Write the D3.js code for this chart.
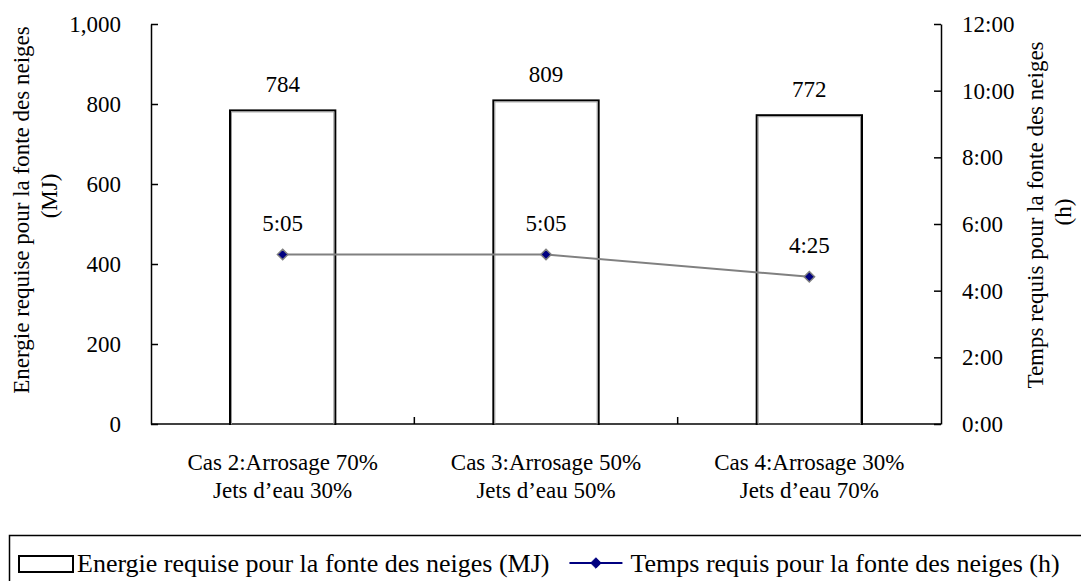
<!DOCTYPE html>
<html>
<head>
<meta charset="utf-8">
<script src="https://cdn.jsdelivr.net/npm/d3@7"></script>
<style>
  html, body { margin: 0; padding: 0; background: #fff; }
</style>
</head>
<body>
<svg id="chart" width="1081" height="581"></svg>
<script>
// Snow-melting scenarios: share of sprinkling vs. water jets
const categories = [
  ["Cas 2:Arrosage 70%", "Jets d\u2019eau 30%"],
  ["Cas 3:Arrosage 50%", "Jets d\u2019eau 50%"],
  ["Cas 4:Arrosage 30%", "Jets d\u2019eau 70%"]
];
// Energy required for melting (MJ)
const energyMJ = [784, 809, 772];
// Time required for melting (h:mm)
const meltTime = ["5:05", "5:05", "4:25"];

const energyTicks = [0, 200, 400, 600, 800, 1000];
const timeTicks = [0, 2, 4, 6, 8, 10, 12];

const energyLabel = ["Energie requise pour la fonte des neiges", "(MJ)"];
const timeLabel = ["Temps requis pour la fonte des neiges", "(h)"];
const legendEnergy = "Energie requise pour la fonte des neiges (MJ)";
const legendTime = "Temps requis pour la fonte des neiges (h)";

const toHours = s => { const [h, m] = s.split(":").map(Number); return h + m / 60; };
const fmtHM = h => Math.floor(h) + ":" + String(Math.round((h - Math.floor(h)) * 60)).padStart(2, "0");

const FONT = '"Liberation Serif", "Times New Roman", Times, serif';
const svg = d3.select("#chart").style("font-family", FONT);
const plot = { left: 151, right: 941, top: 24, bottom: 424 };
const FS = 23;

const keys = categories.map(c => c.join(" "));
const x = d3.scaleBand().domain(keys).range([plot.left, plot.right])
  .paddingInner(0.6).paddingOuter(0.3);
const yE = d3.scaleLinear().domain([0, 1000]).range([plot.bottom, plot.top]);
const yT = d3.scaleLinear().domain([0, 12]).range([plot.bottom, plot.top]);

// Left axis (energy)
const gL = svg.append("g").attr("transform", `translate(${plot.left},0)`)
  .call(d3.axisLeft(yE).tickValues(energyTicks).tickFormat(d3.format(",")).tickSize(-7).tickSizeOuter(0).tickPadding(30));
// Right axis (time)
const gR = svg.append("g").attr("transform", `translate(${plot.right},0)`)
  .call(d3.axisRight(yT).tickValues(timeTicks).tickFormat(d => d + ":00").tickSize(-7).tickSizeOuter(0).tickPadding(21));
[gL, gR].forEach(g => {
  g.attr("font-family", null).attr("font-size", null);
  g.select(".domain").attr("stroke", "#000").attr("stroke-width", 1.5);
  g.selectAll(".tick line").attr("stroke", "#000").attr("stroke-width", 1.5);
  g.selectAll(".tick text").attr("font-size", FS);
});

// Bottom axis with separators between categories
const gB = svg.append("g").attr("transform", `translate(0,${plot.bottom})`);
gB.append("line").attr("x1", plot.left).attr("x2", plot.right)
  .attr("stroke", "#000").attr("stroke-width", 1.5);
const step = x.step();
const seps = keys.slice(1).map(k => x(k) - step * x.paddingInner() / 2);
gB.selectAll("line.sep").data(seps).join("line").attr("class", "sep")
  .attr("x1", d => d).attr("x2", d => d).attr("y1", 0).attr("y2", -7)
  .attr("stroke", "#000").attr("stroke-width", 1.5);

// Category labels (two lines)
const catG = svg.append("g");
categories.forEach((lines, i) => {
  const cx = x(keys[i]) + x.bandwidth() / 2;
  lines.forEach((t, j) => {
    catG.append("text").attr("x", cx).attr("y", 470 + j * 28)
      .attr("text-anchor", "middle").attr("font-size", FS).text(t);
  });
});

// Bars
const bars = svg.append("g");
bars.selectAll("rect.bar").data(energyMJ).join("rect").attr("class", "bar")
  .attr("x", (d, i) => x(keys[i]))
  .attr("y", d => yE(d))
  .attr("width", x.bandwidth())
  .attr("height", d => yE(0) - yE(d))
  .attr("fill", "#fff").attr("stroke", "#000").attr("stroke-width", 2);
bars.selectAll("rect.inner").data(energyMJ).join("rect").attr("class", "inner")
  .attr("x", (d, i) => x(keys[i]) + 1.5)
  .attr("y", d => yE(d) + 1.5)
  .attr("width", x.bandwidth() - 3)
  .attr("height", d => yE(0) - yE(d) - 1.5)
  .attr("fill", "none").attr("stroke", "#9a9a9a").attr("stroke-width", 1);
bars.selectAll("text").data(energyMJ).join("text")
  .attr("x", (d, i) => x(keys[i]) + x.bandwidth() / 2)
  .attr("y", d => yE(d) - 18)
  .attr("text-anchor", "middle").attr("font-size", FS).text(d => d);

// Time line with diamond markers
const hours = meltTime.map(toHours);
const cxOf = i => x(keys[i]) + x.bandwidth() / 2;
const line = d3.line().x((d, i) => cxOf(i)).y(d => yT(d));
svg.append("path").datum(hours).attr("d", line)
  .attr("fill", "none").attr("stroke", "#808080").attr("stroke-width", 2);
const diamond = d3.symbol().type(d3.symbolDiamond2).size(70);
svg.append("g").selectAll("path").data(hours).join("path")
  .attr("d", diamond)
  .attr("transform", (d, i) => `translate(${cxOf(i)},${yT(d)})`)
  .attr("fill", "#000080").attr("stroke", "#808080").attr("stroke-width", 1.5);
svg.append("g").selectAll("text").data(hours).join("text")
  .attr("x", (d, i) => cxOf(i)).attr("y", d => yT(d) - 24)
  .attr("text-anchor", "middle").attr("font-size", FS).text(d => fmtHM(d));

// Axis titles
svg.append("g").attr("transform", "translate(29,210) rotate(-90)")
  .append("text").attr("text-anchor", "middle").attr("font-size", FS).text(energyLabel[0]);
svg.append("g").attr("transform", "translate(57,196) rotate(-90)")
  .append("text").attr("text-anchor", "middle").attr("font-size", FS).text(energyLabel[1]);
svg.append("g").attr("transform", "translate(1043,215) rotate(-90)")
  .append("text").attr("text-anchor", "middle").attr("font-size", FS).text(timeLabel[0]);
svg.append("g").attr("transform", "translate(1071,212) rotate(-90)")
  .append("text").attr("text-anchor", "middle").attr("font-size", FS).text(timeLabel[1]);

// Legend
const LFS = 26;
const leg = svg.append("g");
leg.append("rect").attr("x", 9.5).attr("y", 535.5).attr("width", 1100).attr("height", 100)
  .attr("fill", "#fff").attr("stroke", "#000").attr("stroke-width", 1.5);
leg.append("rect").attr("x", 19).attr("y", 556).attr("width", 54).attr("height", 16)
  .attr("fill", "#fff").attr("stroke", "#000").attr("stroke-width", 2);
const t1 = leg.append("text").attr("x", 77).attr("y", 572).attr("font-size", LFS).text(legendEnergy);
const w1 = t1.node().getComputedTextLength();
const lx = 77 + w1 + 20;
leg.append("line").attr("x1", lx).attr("x2", lx + 53).attr("y1", 563).attr("y2", 563)
  .attr("stroke", "#000080").attr("stroke-width", 2);
leg.append("path").attr("d", diamond).attr("transform", `translate(${lx + 26.5},563)`)
  .attr("fill", "#000080").attr("stroke", "#000080");
leg.append("text").attr("x", lx + 61).attr("y", 572).attr("font-size", LFS).text(legendTime);

svg.selectAll("text").style("font-family", FONT).attr("fill", "#000");
</script>
</body>
</html>
